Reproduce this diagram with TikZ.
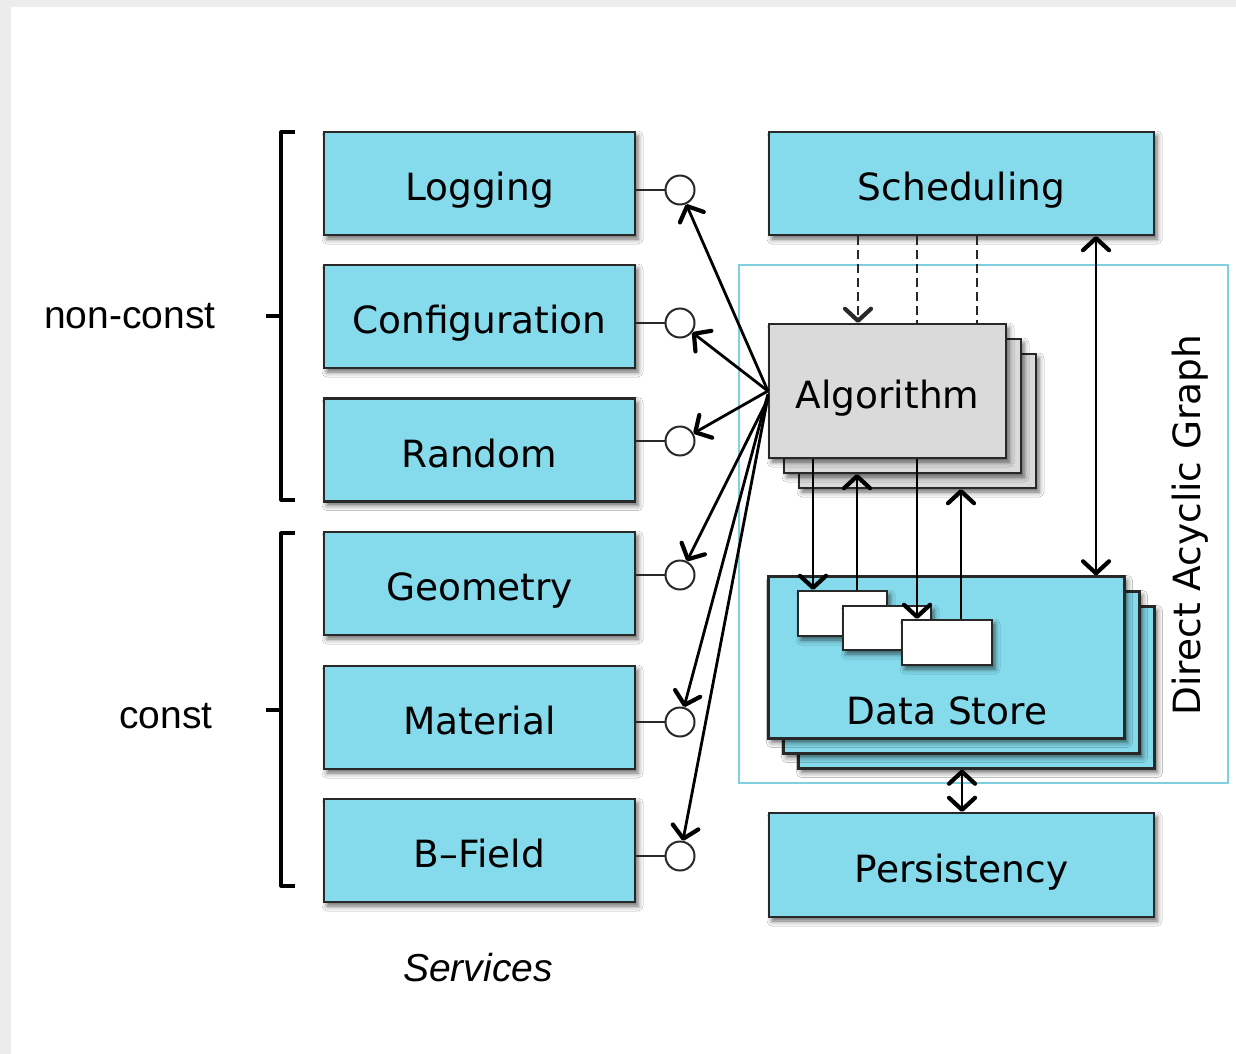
\documentclass[tikz,border=0pt]{standalone}
\usepackage{fontspec}
\setmainfont{DejaVu Sans}
\newfontfamily\helv{Liberation Sans}
\usetikzlibrary{arrows.meta,shadows.blur}
\definecolor{svc}{RGB}{133,219,236}
\definecolor{edgec}{RGB}{40,40,40}
\definecolor{dagc}{RGB}{128,208,226}
\definecolor{algc}{RGB}{218,218,218}
\definecolor{framec}{RGB}{236,236,236}
\tikzset{
  shad/.style={blur shadow={shadow xshift=3pt,shadow yshift=-4pt,shadow blur radius=5pt,shadow opacity=60}},
  bigtxt/.style={font=\fontsize{37.5}{44}\selectfont,text height=38pt,text depth=4pt},
  svcbox/.style={draw=edgec,line width=2.2pt,fill=svc,shad,minimum width=311pt,minimum height=103pt,bigtxt,inner sep=0pt},
  cbox/.style={draw=edgec,line width=2.2pt,fill=svc,shad,inner sep=0pt},
  abox/.style={draw=edgec,line width=2.2pt,fill=algc,shad,inner sep=0pt,minimum width=237pt,minimum height=134pt},
  wbox/.style={draw=edgec,line width=2.2pt,fill=white,shad,inner sep=0pt},
  port/.style={circle,draw=edgec,line width=2pt,fill=white,minimum size=29pt,inner sep=0pt},
  conn/.style={draw=black,line width=2.8pt},
  arr/.style={conn,-{Straight Barb[length=12pt,width=26pt,line width'=4.2pt,round]}},
  darr/.style={conn,{Straight Barb[length=12pt,width=26pt,line width'=4.2pt,round]}-{Straight Barb[length=12pt,width=26pt,line width'=4.2pt,round]}},
  dline/.style={draw=edgec,line width=2.4pt,dash pattern=on 9pt off 5pt},
  brk/.style={draw=black,line width=3.2pt,line join=round},
  side/.style={font=\helv\fontsize{39}{44}\selectfont}
}
\begin{document}
\begin{tikzpicture}[x=1pt,y=-1pt]
\useasboundingbox (0,0) rectangle (1236,1054);
\fill[white] (0,0) rectangle (1236,1054);
\fill[framec] (0,0) rectangle (1236,7);
\fill[framec] (0,0) rectangle (11,1054);

% DAG frame
\node[draw=dagc,line width=2pt,minimum width=489pt,minimum height=518pt,inner sep=0pt] (dag) at (983.5,524) {};
\node[font=\fontsize{37.5}{44}\selectfont,rotate=90] (daglbl) at (1190,525) {Direct Acyclic Graph};

% services
\node[svcbox] (log) at (479.5,183.5) {Logging};
\node[svcbox] (conf) at (479.5,316.5) {Configuration};
\node[svcbox] (rnd) at (479.5,450) {Random};
\node[svcbox] (geo) at (479.5,583.5) {Geometry};
\node[svcbox] (mat) at (479.5,717.5) {Material};
\node[svcbox] (bf) at (479.5,850.5) {B--Field};

% ports
\node[port] (c1) at (680,190) {};
\node[port] (c2) at (680,323) {};
\node[port] (c3) at (680,441) {};
\node[port] (c4) at (680,575) {};
\node[port] (c5) at (680,722) {};
\node[port] (c6) at (680,856) {};
\draw[draw=edgec,line width=1.6pt] (log.east |- c1) -- (c1.west);
\draw[draw=edgec,line width=1.6pt] (conf.east |- c2) -- (c2.west);
\draw[draw=edgec,line width=1.6pt] (rnd.east |- c3) -- (c3.west);
\draw[draw=edgec,line width=1.6pt] (geo.east |- c4) -- (c4.west);
\draw[draw=edgec,line width=1.6pt] (mat.east |- c5) -- (c5.west);
\draw[draw=edgec,line width=1.6pt] (bf.east |- c6) -- (c6.west);

% right column
\node[cbox,minimum width=385pt,minimum height=103pt,bigtxt] (sched) at (961.5,183.5) {Scheduling};
\node[cbox,minimum width=385pt,minimum height=104pt,bigtxt] (pers) at (961.5,865) {Persistency};

% algorithm stack
\node[abox] (alg3) at (917.5,421) {};
\node[abox] (alg2) at (902.5,406) {};
\node[abox] (alg) at (887.5,391) {};
\node[bigtxt,inner sep=0pt] (alglbl) at (887.5,391) {Algorithm};

% data store stack
\node[cbox,minimum width=356pt,minimum height=162pt] (ds3) at (976.5,687.5) {};
\node[cbox,minimum width=356pt,minimum height=162pt] (ds2) at (961.5,672.5) {};
\node[cbox,minimum width=356pt,minimum height=162pt] (ds) at (946.5,657.5) {};
\node[bigtxt,inner sep=0pt] (dslbl) at (947,707) {Data Store};
\node[wbox,minimum width=89pt,minimum height=45pt] (w1) at (842.5,613.5) {};
\node[wbox,minimum width=88pt,minimum height=44pt] (w2) at (887,628) {};
\node[wbox,minimum width=90pt,minimum height=45pt] (w3) at (947,642.5) {};

% helper x positions
\coordinate (x1) at (858,0);
\coordinate (x2) at (917,0);
\coordinate (x3) at (977,0);
\coordinate (y1) at (813,0);
\coordinate (y2) at (857,0);
\coordinate (y3) at (917,0);
\coordinate (y4) at (961,0);
\coordinate (y5) at (1096,0);
\coordinate (y6) at (962,0);

% dashed scheduling lines
\draw[dline,-{Straight Barb[length=12pt,width=26pt,line width'=4.2pt,round]}] (sched.south -| x1) -- (alg.north -| x1);
\draw[dline] (sched.south -| x2) -- (alg.north -| x2);
\draw[dline] (sched.south -| x3) -- (alg.north -| x3);

% algorithm <-> data store
\draw[arr] (alg.south -| y1) -- (w1.north -| y1);
\draw[arr] (w1.north -| y2) -- (alg2.south -| y2);
\draw[arr] (alg.south -| y3) -- (w3.north -| y3);
\draw[arr] (w3.north -| y4) -- (alg3.south -| y4);

% double arrows
\draw[darr] (sched.south -| y5) -- (ds.north -| y5);
\draw[darr] (ds3.south -| y6) -- (pers.north -| y6);

% algorithm -> services
\draw[arr] (alg.west) -- (c1);
\draw[arr] (alg.west) -- (c2);
\draw[arr] (alg.west) -- (c3);
\draw[arr] ([yshift=-8pt]alg.west) -- (c4);
\draw[arr] ([yshift=-3pt]alg.west) -- (c5);
\draw[arr] ([yshift=-6pt]alg.west) -- (c6);

% brackets
\draw[brk] (295,132) -- (281,132) -- (281,500) -- (295,500);
\draw[brk] (266,316) -- (281,316);
\draw[brk] (295,533) -- (281,533) -- (281,886) -- (295,886);
\draw[brk] (266,710) -- (281,710);
\node[side,anchor=east] (nc) at (219,316) {non-const};
\node[side,anchor=east] (cst) at (216,716) {const};
\node[font=\helv\itshape\fontsize{39}{44}\selectfont] (svl) at (478,968) {Services};
\end{tikzpicture}
\end{document}
